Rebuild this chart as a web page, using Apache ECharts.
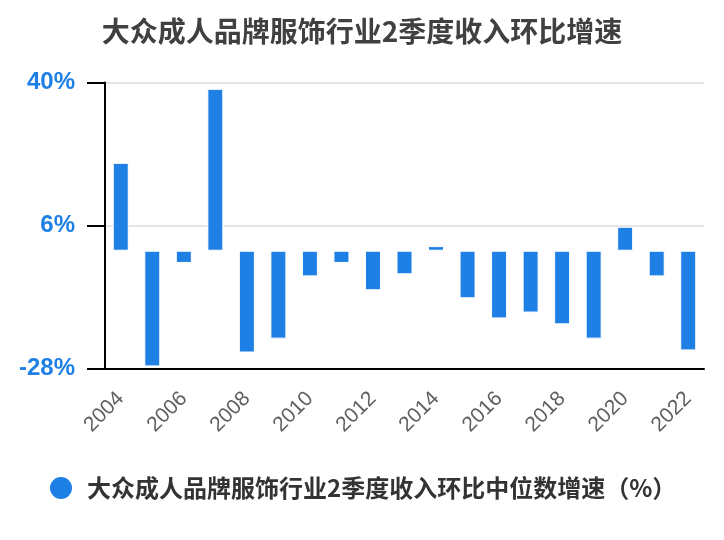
<!DOCTYPE html>
<html>
<head>
<meta charset="utf-8">
<script src="https://cdn.jsdelivr.net/npm/echarts@6/dist/echarts.min.js"></script>
<style>html,body{margin:0;padding:0;background:#fff;}#c{width:724px;height:540px;}</style>
</head>
<body>
<div id="c"></div>
<script>
var titleText = '大众成人品牌服饰行业2季度收入环比增速';
var seriesName = '大众成人品牌服饰行业2季度收入环比中位数增速（%）';
var years = ['2004','2005','2006','2007','2008','2009','2010','2011','2012','2013','2014','2015','2016','2017','2018','2019','2020','2021','2022'];
var growth = [20.9, -27.5, -2.9, 38.5, -24.2, -20.9, -6.1, -2.9, -9.4, -5.6, 1.1, -11.3, -16.1, -14.7, -17.5, -20.9, 5.7, -6.1, -23.7];
var yMin = -28, yMax = 40, yStep = 34;

var chart = echarts.init(document.getElementById('c'), null, {renderer: 'canvas'});
chart.setOption({
  animation: false,
  backgroundColor: '#ffffff',
  title: {
    text: titleText,
    left: 'center',
    top: 12,
    textStyle: {fontSize: 28, fontWeight: 'bold', color: '#404040', fontFamily: '"Noto Sans CJK SC", sans-serif'}
  },
  legend: {
    bottom: 34,
    left: 43,
    icon: 'circle',
    itemWidth: 42,
    itemHeight: 24,
    textStyle: {fontSize: 24, fontWeight: 'bold', color: '#333333', fontFamily: '"Noto Sans CJK SC", sans-serif'},
    data: [seriesName]
  },
  grid: {left: 105, right: 20, top: 82.5, bottom: 171.5, containLabel: false},
  xAxis: {
    type: 'category',
    data: years,
    axisLine: {onZero: false, lineStyle: {color: '#000', width: 2}},
    axisTick: {alignWithLabel: true, interval: 1, length: 18, lineStyle: {color: '#000', width: 2}},
    axisLabel: {interval: 1, rotate: 45, margin: 27, fontSize: 21, color: '#5f5f5f', fontFamily: '"Liberation Sans", Arial, sans-serif'},
    splitLine: {show: false}
  },
  yAxis: {
    type: 'value',
    min: yMin, max: yMax, interval: yStep,
    axisLine: {show: true, lineStyle: {color: '#000', width: 2}},
    axisTick: {show: true, length: 18, lineStyle: {color: '#000', width: 2}},
    axisLabel: {formatter: '{value}%', margin: 30, fontSize: 24, fontWeight: 'bold', color: '#1e80e4', fontFamily: '"Liberation Sans", Arial, sans-serif'},
    splitLine: {show: true, lineStyle: {color: '#e5e5e5', width: 2}}
  },
  series: [{
    name: seriesName,
    type: 'bar',
    data: growth,
    barWidth: 16,
    itemStyle: {color: '#1e80e4', borderColor: '#ffffff', borderWidth: 1}
  }]
});
</script>
</body>
</html>
